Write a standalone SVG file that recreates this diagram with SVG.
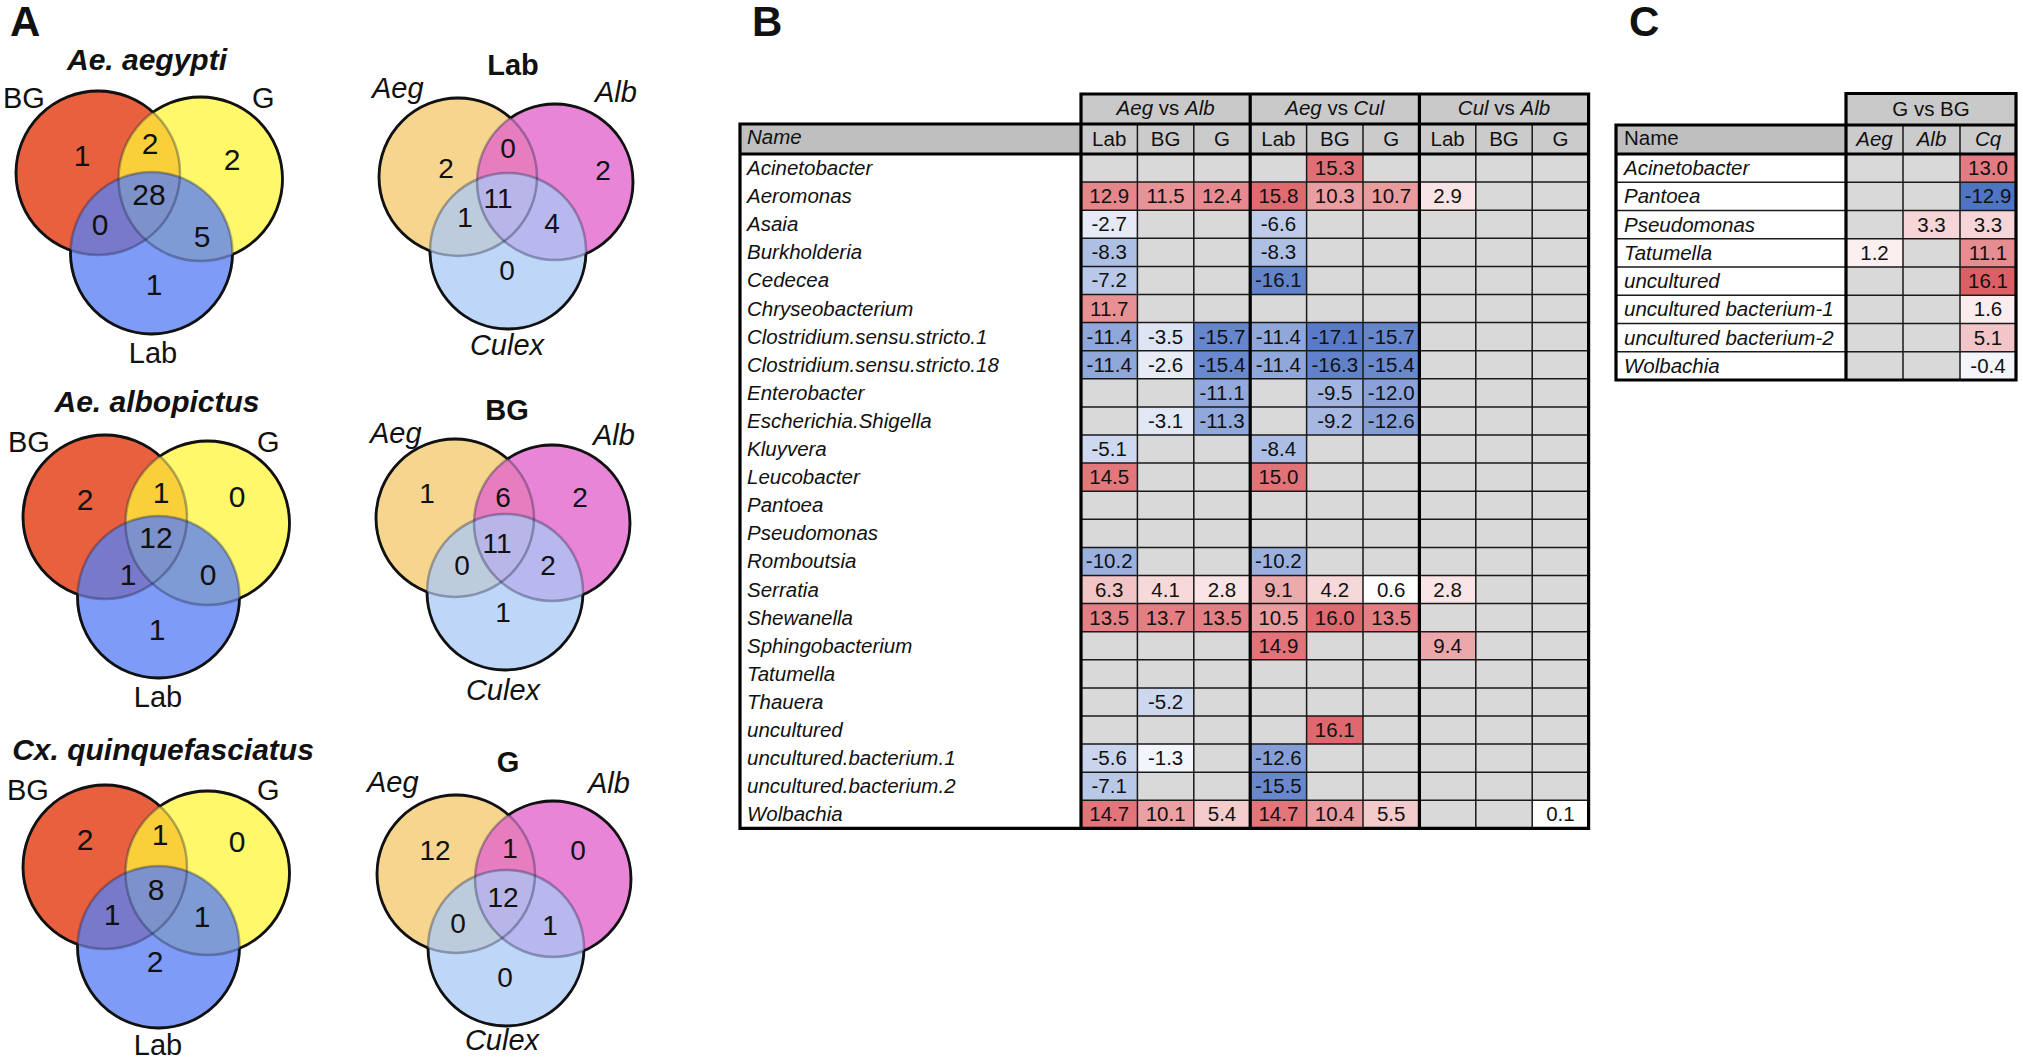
<svg xmlns="http://www.w3.org/2000/svg" xmlns:xlink="http://www.w3.org/1999/xlink" width="2023" height="1063" viewBox="0 0 2023 1063">
<style>
text{font-family:"Liberation Sans",Arial,sans-serif;fill:#111}
.pl{font-size:42px;font-weight:bold}
.vt{font-size:30px;font-weight:bold;font-style:italic;text-anchor:middle}
.vtb{font-size:29px;font-weight:bold;text-anchor:middle}
.vl{font-size:29px}
.vli{font-size:29px;font-style:italic}
.vn{font-size:30px;text-anchor:middle}
.vn2{font-size:28px;text-anchor:middle}
.inner use{fill:none;stroke:#1a2040;stroke-width:2.5;stroke-opacity:.35}
.outer{fill:none;stroke:#111;stroke-width:2.8}
.t{font-size:20.5px}
.ti{font-size:20.5px;font-style:italic}
.n{font-size:20.5px;text-anchor:middle}
.h{font-size:20.5px;text-anchor:middle}
.thin{fill:none;stroke:#1a1a1a;stroke-width:1.5}
.thick{fill:none;stroke:#000;stroke-width:3.2}
</style>
<defs>
<circle id="cA" cx="0" cy="0" r="82"/>
<circle id="cB" cx="102.5" cy="6" r="82"/>
<circle id="cC" cx="53.5" cy="80" r="81"/>
<circle id="dA" cx="0" cy="0" r="79"/>
<circle id="dB" cx="97" cy="5" r="78"/>
<circle id="dC" cx="50" cy="74" r="78"/>
<mask id="mcA" maskUnits="userSpaceOnUse" x="-150" y="-150" width="450" height="420"><rect x="-150" y="-150" width="450" height="420" fill="#fff"/><use href="#cB" fill="#000"/><use href="#cC" fill="#000"/></mask>
<mask id="mcB" maskUnits="userSpaceOnUse" x="-150" y="-150" width="450" height="420"><rect x="-150" y="-150" width="450" height="420" fill="#fff"/><use href="#cA" fill="#000"/><use href="#cC" fill="#000"/></mask>
<mask id="mcC" maskUnits="userSpaceOnUse" x="-150" y="-150" width="450" height="420"><rect x="-150" y="-150" width="450" height="420" fill="#fff"/><use href="#cA" fill="#000"/><use href="#cB" fill="#000"/></mask>
<mask id="mdA" maskUnits="userSpaceOnUse" x="-150" y="-150" width="450" height="420"><rect x="-150" y="-150" width="450" height="420" fill="#fff"/><use href="#dB" fill="#000"/><use href="#dC" fill="#000"/></mask>
<mask id="mdB" maskUnits="userSpaceOnUse" x="-150" y="-150" width="450" height="420"><rect x="-150" y="-150" width="450" height="420" fill="#fff"/><use href="#dA" fill="#000"/><use href="#dC" fill="#000"/></mask>
<mask id="mdC" maskUnits="userSpaceOnUse" x="-150" y="-150" width="450" height="420"><rect x="-150" y="-150" width="450" height="420" fill="#fff"/><use href="#dA" fill="#000"/><use href="#dB" fill="#000"/></mask>
<g id="vennL">
<use href="#cA" fill="#E9603E"/>
<use href="#cB" fill="#FFF53A" fill-opacity=".75"/>
<use href="#cC" fill="#5A80F5" fill-opacity=".78"/>
<g class="inner"><use href="#cA"/><use href="#cB"/><use href="#cC"/></g>
<use href="#cA" class="outer" mask="url(#mcA)"/>
<use href="#cB" class="outer" mask="url(#mcB)"/>
<use href="#cC" class="outer" mask="url(#mcC)"/>
</g>
<g id="vennR">
<use href="#dA" fill="#F6D58E"/>
<use href="#dB" fill="#E266CC" fill-opacity=".8"/>
<use href="#dC" fill="#A8C8F5" fill-opacity=".75"/>
<g class="inner"><use href="#dA"/><use href="#dB"/><use href="#dC"/></g>
<use href="#dA" class="outer" mask="url(#mdA)"/>
<use href="#dB" class="outer" mask="url(#mdB)"/>
<use href="#dC" class="outer" mask="url(#mdC)"/>
</g>
</defs>
<rect width="2023" height="1063" fill="#fff"/>

<text class="pl" x="10" y="36">A</text>
<text class="pl" x="752" y="36">B</text>
<text class="pl" x="1629" y="36">C</text>

<!-- Panel A left venns -->
<g id="venn-aegypti">
<use href="#vennL" transform="translate(98,173)"/>
<text class="vt" x="147" y="70">Ae. aegypti</text>
<text class="vl" x="3" y="108">BG</text>
<text class="vl" x="252" y="108">G</text>
<text class="vl" x="153" y="363" text-anchor="middle">Lab</text>
<text class="vn" x="82" y="166">1</text>
<text class="vn" x="150" y="154">2</text>
<text class="vn" x="232" y="170">2</text>
<text class="vn" x="149" y="205">28</text>
<text class="vn" x="100" y="235">0</text>
<text class="vn" x="202" y="247">5</text>
<text class="vn" x="154" y="295">1</text>
</g>
<g id="venn-albopictus">
<use href="#vennL" transform="translate(105,517)"/>
<text class="vt" x="157" y="412">Ae. albopictus</text>
<text class="vl" x="8" y="452">BG</text>
<text class="vl" x="257" y="452">G</text>
<text class="vl" x="158" y="707" text-anchor="middle">Lab</text>
<text class="vn" x="85" y="510">2</text>
<text class="vn" x="161" y="503">1</text>
<text class="vn" x="237" y="507">0</text>
<text class="vn" x="156" y="548">12</text>
<text class="vn" x="128" y="585">1</text>
<text class="vn" x="208" y="585">0</text>
<text class="vn" x="157" y="640">1</text>
</g>
<g id="venn-quinquefasciatus">
<use href="#vennL" transform="translate(105,867)"/>
<text class="vt" x="163" y="760">Cx. quinquefasciatus</text>
<text class="vl" x="7" y="800">BG</text>
<text class="vl" x="257" y="800">G</text>
<text class="vl" x="158" y="1055" text-anchor="middle">Lab</text>
<text class="vn" x="85" y="850">2</text>
<text class="vn" x="160" y="845">1</text>
<text class="vn" x="237" y="852">0</text>
<text class="vn" x="156" y="900">8</text>
<text class="vn" x="112" y="925">1</text>
<text class="vn" x="202" y="927">1</text>
<text class="vn" x="155" y="972">2</text>
</g>

<!-- Panel A right venns -->
<g id="venn-lab">
<use href="#vennR" transform="translate(458,177)"/>
<text class="vtb" x="513" y="75">Lab</text>
<text class="vli" x="372" y="98">Aeg</text>
<text class="vli" x="595" y="102">Alb</text>
<text class="vli" x="507" y="355" text-anchor="middle">Culex</text>
<text class="vn2" x="446" y="178">2</text>
<text class="vn2" x="508" y="158">0</text>
<text class="vn2" x="603" y="180">2</text>
<text class="vn2" x="498" y="208">11</text>
<text class="vn2" x="465" y="227">1</text>
<text class="vn2" x="552" y="233">4</text>
<text class="vn2" x="507" y="280">0</text>
</g>
<g id="venn-bg">
<use href="#vennR" transform="translate(455,518)"/>
<text class="vtb" x="507" y="420">BG</text>
<text class="vli" x="370" y="443">Aeg</text>
<text class="vli" x="593" y="445">Alb</text>
<text class="vli" x="503" y="700" text-anchor="middle">Culex</text>
<text class="vn2" x="427" y="503">1</text>
<text class="vn2" x="503" y="507">6</text>
<text class="vn2" x="580" y="507">2</text>
<text class="vn2" x="497" y="553">11</text>
<text class="vn2" x="462" y="575">0</text>
<text class="vn2" x="548" y="575">2</text>
<text class="vn2" x="503" y="622">1</text>
</g>
<g id="venn-g">
<use href="#vennR" transform="translate(456,874)"/>
<text class="vtb" x="508" y="772">G</text>
<text class="vli" x="367" y="792">Aeg</text>
<text class="vli" x="588" y="793">Alb</text>
<text class="vli" x="502" y="1050" text-anchor="middle">Culex</text>
<text class="vn2" x="435" y="860">12</text>
<text class="vn2" x="510" y="858">1</text>
<text class="vn2" x="578" y="860">0</text>
<text class="vn2" x="503" y="907">12</text>
<text class="vn2" x="458" y="933">0</text>
<text class="vn2" x="550" y="935">1</text>
<text class="vn2" x="505" y="987">0</text>
</g>

<!-- Panel B table -->
<g id="tableB">
<rect x="1081" y="94" width="507.6" height="30" fill="#C9C9C9"/>
<rect x="1081" y="124" width="507.6" height="30" fill="#CBCBCB"/>
<rect x="740" y="124" width="341" height="30" fill="#BFBFBF"/>
<rect x="740" y="154" width="341" height="674.4" fill="#fff"/>
<rect x="1081" y="154" width="507.6" height="674.4" fill="#D9D9D9"/>
<text class="h" x="1165.6" y="115"><tspan font-style="italic">Aeg</tspan> vs <tspan font-style="italic">Alb</tspan></text>
<text class="h" x="1334.8" y="115"><tspan font-style="italic">Aeg</tspan> vs <tspan font-style="italic">Cul</tspan></text>
<text class="h" x="1504" y="115"><tspan font-style="italic">Cul</tspan> vs <tspan font-style="italic">Alb</tspan></text>
<text class="ti" x="747" y="144">Name</text>
<text class="h" x="1109.2" y="146">Lab</text><text class="h" x="1165.6" y="146">BG</text><text class="h" x="1222" y="146">G</text>
<text class="h" x="1278.4" y="146">Lab</text><text class="h" x="1334.8" y="146">BG</text><text class="h" x="1391.2" y="146">G</text>
<text class="h" x="1447.6" y="146">Lab</text><text class="h" x="1504" y="146">BG</text><text class="h" x="1560.4" y="146">G</text>

<g id="r0" transform="translate(0,154)"><text class="ti" x="747" y="21">Acinetobacter</text>
<rect x="1306.6" width="56.4" height="28.1" fill="#E06F75"/><text class="n" x="1334.8" y="21">15.3</text></g>
<g id="r1" transform="translate(0,182.1)"><text class="ti" x="747" y="21">Aeromonas</text>
<rect x="1081" width="56.4" height="28.1" fill="#E5868A"/><text class="n" x="1109.2" y="21">12.9</text>
<rect x="1137.4" width="56.4" height="28.1" fill="#E89397"/><text class="n" x="1165.6" y="21">11.5</text>
<rect x="1193.8" width="56.4" height="28.1" fill="#E68A8F"/><text class="n" x="1222" y="21">12.4</text>
<rect x="1250.2" width="56.4" height="28.1" fill="#DF6B70"/><text class="n" x="1278.4" y="21">15.8</text>
<rect x="1306.6" width="56.4" height="28.1" fill="#EA9EA2"/><text class="n" x="1334.8" y="21">10.3</text>
<rect x="1363" width="56.4" height="28.1" fill="#EA9B9E"/><text class="n" x="1391.2" y="21">10.7</text>
<rect x="1419.4" width="56.4" height="28.1" fill="#F9E4E5"/><text class="n" x="1447.6" y="21">2.9</text></g>
<g id="r2" transform="translate(0,210.2)"><text class="ti" x="747" y="21">Asaia</text>
<rect x="1081" width="56.4" height="28.1" fill="#E5EAF6"/><text class="n" x="1109.2" y="21">-2.7</text>
<rect x="1250.2" width="56.4" height="28.1" fill="#BFCCE9"/><text class="n" x="1278.4" y="21">-6.6</text></g>
<g id="r3" transform="translate(0,238.3)"><text class="ti" x="747" y="21">Burkholderia</text>
<rect x="1081" width="56.4" height="28.1" fill="#AEBFE4"/><text class="n" x="1109.2" y="21">-8.3</text>
<rect x="1250.2" width="56.4" height="28.1" fill="#AEBFE4"/><text class="n" x="1278.4" y="21">-8.3</text></g>
<g id="r4" transform="translate(0,266.4)"><text class="ti" x="747" y="21">Cedecea</text>
<rect x="1081" width="56.4" height="28.1" fill="#B9C8E8"/><text class="n" x="1109.2" y="21">-7.2</text>
<rect x="1250.2" width="56.4" height="28.1" fill="#6383CB"/><text class="n" x="1278.4" y="21">-16.1</text></g>
<g id="r5" transform="translate(0,294.5)"><text class="ti" x="747" y="21">Chryseobacterium</text>
<rect x="1081" width="56.4" height="28.1" fill="#E89195"/><text class="n" x="1109.2" y="21">11.7</text></g>
<g id="r6" transform="translate(0,322.6)"><text class="ti" x="747" y="21">Clostridium.sensu.stricto.1</text>
<rect x="1081" width="56.4" height="28.1" fill="#90A7DA"/><text class="n" x="1109.2" y="21">-11.4</text>
<rect x="1137.4" width="56.4" height="28.1" fill="#DDE4F4"/><text class="n" x="1165.6" y="21">-3.5</text>
<rect x="1193.8" width="56.4" height="28.1" fill="#6686CC"/><text class="n" x="1222" y="21">-15.7</text>
<rect x="1250.2" width="56.4" height="28.1" fill="#90A7DA"/><text class="n" x="1278.4" y="21">-11.4</text>
<rect x="1306.6" width="56.4" height="28.1" fill="#597BC7"/><text class="n" x="1334.8" y="21">-17.1</text>
<rect x="1363" width="56.4" height="28.1" fill="#6686CC"/><text class="n" x="1391.2" y="21">-15.7</text></g>
<g id="r7" transform="translate(0,350.7)"><text class="ti" x="747" y="21">Clostridium.sensu.stricto.18</text>
<rect x="1081" width="56.4" height="28.1" fill="#90A7DA"/><text class="n" x="1109.2" y="21">-11.4</text>
<rect x="1137.4" width="56.4" height="28.1" fill="#E6EBF6"/><text class="n" x="1165.6" y="21">-2.6</text>
<rect x="1193.8" width="56.4" height="28.1" fill="#6988CD"/><text class="n" x="1222" y="21">-15.4</text>
<rect x="1250.2" width="56.4" height="28.1" fill="#90A7DA"/><text class="n" x="1278.4" y="21">-11.4</text>
<rect x="1306.6" width="56.4" height="28.1" fill="#6181CA"/><text class="n" x="1334.8" y="21">-16.3</text>
<rect x="1363" width="56.4" height="28.1" fill="#6988CD"/><text class="n" x="1391.2" y="21">-15.4</text></g>
<g id="r8" transform="translate(0,378.8)"><text class="ti" x="747" y="21">Enterobacter</text>
<rect x="1193.8" width="56.4" height="28.1" fill="#93A9DB"/><text class="n" x="1222" y="21">-11.1</text>
<rect x="1306.6" width="56.4" height="28.1" fill="#A3B6E0"/><text class="n" x="1334.8" y="21">-9.5</text>
<rect x="1363" width="56.4" height="28.1" fill="#8AA2D8"/><text class="n" x="1391.2" y="21">-12.0</text></g>
<g id="r9" transform="translate(0,406.9)"><text class="ti" x="747" y="21">Escherichia.Shigella</text>
<rect x="1137.4" width="56.4" height="28.1" fill="#E1E7F5"/><text class="n" x="1165.6" y="21">-3.1</text>
<rect x="1193.8" width="56.4" height="28.1" fill="#91A8DA"/><text class="n" x="1222" y="21">-11.3</text>
<rect x="1306.6" width="56.4" height="28.1" fill="#A6B8E1"/><text class="n" x="1334.8" y="21">-9.2</text>
<rect x="1363" width="56.4" height="28.1" fill="#859ED6"/><text class="n" x="1391.2" y="21">-12.6</text></g>
<g id="r10" transform="translate(0,435)"><text class="ti" x="747" y="21">Kluyvera</text>
<rect x="1081" width="56.4" height="28.1" fill="#CED8EE"/><text class="n" x="1109.2" y="21">-5.1</text>
<rect x="1250.2" width="56.4" height="28.1" fill="#ADBEE4"/><text class="n" x="1278.4" y="21">-8.4</text></g>
<g id="r11" transform="translate(0,463.1)"><text class="ti" x="747" y="21">Leucobacter</text>
<rect x="1081" width="56.4" height="28.1" fill="#E2777C"/><text class="n" x="1109.2" y="21">14.5</text>
<rect x="1250.2" width="56.4" height="28.1" fill="#E17278"/><text class="n" x="1278.4" y="21">15.0</text></g>
<g id="r12" transform="translate(0,491.2)"><text class="ti" x="747" y="21">Pantoea</text></g>
<g id="r13" transform="translate(0,519.3)"><text class="ti" x="747" y="21">Pseudomonas</text></g>
<g id="r14" transform="translate(0,547.4)"><text class="ti" x="747" y="21">Romboutsia</text>
<rect x="1081" width="56.4" height="28.1" fill="#9CB0DE"/><text class="n" x="1109.2" y="21">-10.2</text>
<rect x="1250.2" width="56.4" height="28.1" fill="#9CB0DE"/><text class="n" x="1278.4" y="21">-10.2</text></g>
<g id="r15" transform="translate(0,575.5)"><text class="ti" x="747" y="21">Serratia</text>
<rect x="1081" width="56.4" height="28.1" fill="#F2C4C6"/><text class="n" x="1109.2" y="21">6.3</text>
<rect x="1137.4" width="56.4" height="28.1" fill="#F7D9DA"/><text class="n" x="1165.6" y="21">4.1</text>
<rect x="1193.8" width="56.4" height="28.1" fill="#F9E5E6"/><text class="n" x="1222" y="21">2.8</text>
<rect x="1250.2" width="56.4" height="28.1" fill="#EDAAAD"/><text class="n" x="1278.4" y="21">9.1</text>
<rect x="1306.6" width="56.4" height="28.1" fill="#F7D8D9"/><text class="n" x="1334.8" y="21">4.2</text>
<rect x="1363" width="56.4" height="28.1" fill="#FFFFFF"/><text class="n" x="1391.2" y="21">0.6</text>
<rect x="1419.4" width="56.4" height="28.1" fill="#F9E5E6"/><text class="n" x="1447.6" y="21">2.8</text></g>
<g id="r16" transform="translate(0,603.6)"><text class="ti" x="747" y="21">Shewanella</text>
<rect x="1081" width="56.4" height="28.1" fill="#E48085"/><text class="n" x="1109.2" y="21">13.5</text>
<rect x="1137.4" width="56.4" height="28.1" fill="#E47E83"/><text class="n" x="1165.6" y="21">13.7</text>
<rect x="1193.8" width="56.4" height="28.1" fill="#E48085"/><text class="n" x="1222" y="21">13.5</text>
<rect x="1250.2" width="56.4" height="28.1" fill="#EA9CA0"/><text class="n" x="1278.4" y="21">10.5</text>
<rect x="1306.6" width="56.4" height="28.1" fill="#DF696F"/><text class="n" x="1334.8" y="21">16.0</text>
<rect x="1363" width="56.4" height="28.1" fill="#E48085"/><text class="n" x="1391.2" y="21">13.5</text></g>
<g id="r17" transform="translate(0,631.7)"><text class="ti" x="747" y="21">Sphingobacterium</text>
<rect x="1250.2" width="56.4" height="28.1" fill="#E17379"/><text class="n" x="1278.4" y="21">14.9</text>
<rect x="1419.4" width="56.4" height="28.1" fill="#ECA7AA"/><text class="n" x="1447.6" y="21">9.4</text></g>
<g id="r18" transform="translate(0,659.8)"><text class="ti" x="747" y="21">Tatumella</text></g>
<g id="r19" transform="translate(0,687.9)"><text class="ti" x="747" y="21">Thauera</text>
<rect x="1137.4" width="56.4" height="28.1" fill="#CDD7EE"/><text class="n" x="1165.6" y="21">-5.2</text></g>
<g id="r20" transform="translate(0,716)"><text class="ti" x="747" y="21">uncultured</text>
<rect x="1306.6" width="56.4" height="28.1" fill="#DF686E"/><text class="n" x="1334.8" y="21">16.1</text></g>
<g id="r21" transform="translate(0,744.1)"><text class="ti" x="747" y="21">uncultured.bacterium.1</text>
<rect x="1081" width="56.4" height="28.1" fill="#C9D4ED"/><text class="n" x="1109.2" y="21">-5.6</text>
<rect x="1137.4" width="56.4" height="28.1" fill="#F2F5FB"/><text class="n" x="1165.6" y="21">-1.3</text>
<rect x="1250.2" width="56.4" height="28.1" fill="#859ED6"/><text class="n" x="1278.4" y="21">-12.6</text></g>
<g id="r22" transform="translate(0,772.2)"><text class="ti" x="747" y="21">uncultured.bacterium.2</text>
<rect x="1081" width="56.4" height="28.1" fill="#BAC8E8"/><text class="n" x="1109.2" y="21">-7.1</text>
<rect x="1250.2" width="56.4" height="28.1" fill="#6887CC"/><text class="n" x="1278.4" y="21">-15.5</text></g>
<g id="r23" transform="translate(0,800.3)"><text class="ti" x="747" y="21">Wolbachia</text>
<rect x="1081" width="56.4" height="28.1" fill="#E2757A"/><text class="n" x="1109.2" y="21">14.7</text>
<rect x="1137.4" width="56.4" height="28.1" fill="#EBA0A4"/><text class="n" x="1165.6" y="21">10.1</text>
<rect x="1193.8" width="56.4" height="28.1" fill="#F4CCCE"/><text class="n" x="1222" y="21">5.4</text>
<rect x="1250.2" width="56.4" height="28.1" fill="#E2757A"/><text class="n" x="1278.4" y="21">14.7</text>
<rect x="1306.6" width="56.4" height="28.1" fill="#EA9DA1"/><text class="n" x="1334.8" y="21">10.4</text>
<rect x="1363" width="56.4" height="28.1" fill="#F4CBCD"/><text class="n" x="1391.2" y="21">5.5</text>
<rect x="1532.2" width="56.4" height="28.1" fill="#FFFFFF"/><text class="n" x="1560.4" y="21">0.1</text></g>

<path class="thin" d="M1081 182.1H1588.6M1081 210.2H1588.6M1081 238.3H1588.6M1081 266.4H1588.6M1081 294.5H1588.6M1081 322.6H1588.6M1081 350.7H1588.6M1081 378.8H1588.6M1081 406.9H1588.6M1081 435H1588.6M1081 463.1H1588.6M1081 491.2H1588.6M1081 519.3H1588.6M1081 547.4H1588.6M1081 575.5H1588.6M1081 603.6H1588.6M1081 631.7H1588.6M1081 659.8H1588.6M1081 687.9H1588.6M1081 716H1588.6M1081 744.1H1588.6M1081 772.2H1588.6M1081 800.3H1588.6M1137.4 124V828.4M1193.8 124V828.4M1306.6 124V828.4M1363 124V828.4M1475.8 124V828.4M1532.2 124V828.4"/>
<path class="thick" d="M740 124H1081V94H1588.6V828.4H740ZM1081 124V828.4M1250.2 94V828.4M1419.4 94V828.4M1081 124H1588.6M740 154H1588.6"/>
</g>

<!-- Panel C table -->
<g id="tableC">
<rect x="1846" y="93.5" width="170" height="31.5" fill="#C9C9C9"/>
<rect x="1846" y="125" width="170" height="29" fill="#CBCBCB"/>
<rect x="1616" y="125" width="230" height="29" fill="#BFBFBF"/>
<rect x="1616" y="154" width="230" height="226" fill="#fff"/>
<rect x="1846" y="154" width="170" height="226" fill="#D9D9D9"/>
<text class="h" x="1931" y="116">G vs BG</text>
<text class="t" x="1624" y="145">Name</text>
<text class="h" x="1874.5" y="146" font-style="italic">Aeg</text>
<text class="h" x="1931.5" y="146" font-style="italic">Alb</text>
<text class="h" x="1988" y="146" font-style="italic">Cq</text>
<g id="c0" transform="translate(0,154)"><text class="ti" x="1624" y="21">Acinetobacter</text>
<rect x="1960" width="56" height="28.25" fill="#E27C82"/><text class="n" x="1988" y="21">13.0</text></g>
<g id="c1" transform="translate(0,182.25)"><text class="ti" x="1624" y="21">Pantoea</text>
<rect x="1960" width="56" height="28.25" fill="#4E74C4"/><text class="n" x="1988" y="21">-12.9</text></g>
<g id="c2" transform="translate(0,210.5)"><text class="ti" x="1624" y="21">Pseudomonas</text>
<rect x="1903" width="57" height="28.25" fill="#F5D5D7"/><text class="n" x="1931.5" y="21">3.3</text>
<rect x="1960" width="56" height="28.25" fill="#F5D5D7"/><text class="n" x="1988" y="21">3.3</text></g>
<g id="c3" transform="translate(0,238.75)"><text class="ti" x="1624" y="21">Tatumella</text>
<rect x="1846" width="57" height="28.25" fill="#FBEFF0"/><text class="n" x="1874.5" y="21">1.2</text>
<rect x="1960" width="56" height="28.25" fill="#E68D92"/><text class="n" x="1988" y="21">11.1</text></g>
<g id="c4" transform="translate(0,267)"><text class="ti" x="1624" y="21">uncultured</text>
<rect x="1960" width="56" height="28.25" fill="#DD5F66"/><text class="n" x="1988" y="21">16.1</text></g>
<g id="c5" transform="translate(0,295.25)"><text class="ti" x="1624" y="21">uncultured bacterium-1</text>
<rect x="1960" width="56" height="28.25" fill="#FBEDEE"/><text class="n" x="1988" y="21">1.6</text></g>
<g id="c6" transform="translate(0,323.5)"><text class="ti" x="1624" y="21">uncultured bacterium-2</text>
<rect x="1960" width="56" height="28.25" fill="#F2C6C9"/><text class="n" x="1988" y="21">5.1</text></g>
<g id="c7" transform="translate(0,351.75)"><text class="ti" x="1624" y="21">Wolbachia</text>
<rect x="1960" width="56" height="28.25" fill="#F3F5FB"/><text class="n" x="1988" y="21">-0.4</text></g>
<path class="thin" d="M1616 182.25H2016M1616 210.5H2016M1616 238.75H2016M1616 267H2016M1616 295.25H2016M1616 323.5H2016M1616 351.75H2016M1903 125V380M1960 125V380"/>
<path class="thick" d="M1616 125H1846V93.5H2016V380H1616ZM1846 125V380M1846 125H2016M1616 154H2016"/>
</g>
</svg>
